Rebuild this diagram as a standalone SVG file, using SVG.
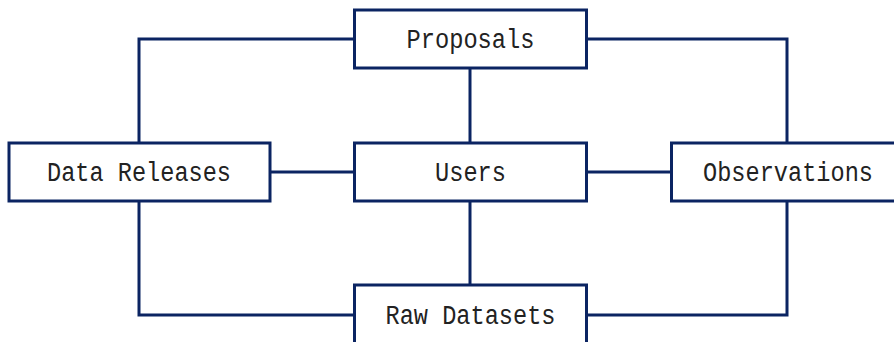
<svg xmlns="http://www.w3.org/2000/svg" width="894" height="342" viewBox="0 0 894 342">
<style>
.box{fill:#fff;stroke:#0b2462;stroke-width:3}
.conn{fill:none;stroke:#0b2462;stroke-width:3}
.lbl{font-family:"Liberation Mono","DejaVu Sans Mono",monospace;font-size:27px;fill:#222;text-anchor:middle}
</style>
<rect width="894" height="342" fill="#fff"/>
<g id="connectors">
<polyline class="conn" points="354,39 139,39 139,143"/>
<polyline class="conn" points="586,39 787,39 787,143"/>
<line class="conn" x1="470" y1="68" x2="470" y2="143"/>
<line class="conn" x1="270" y1="172" x2="354" y2="172"/>
<line class="conn" x1="586" y1="172" x2="671" y2="172"/>
<line class="conn" x1="470" y1="201" x2="470" y2="285"/>
<polyline class="conn" points="139,201 139,315 354,315"/>
<polyline class="conn" points="787,201 787,315 586,315"/>
</g>
<g id="proposals">
<rect class="box" x="354.5" y="10" width="232" height="58"/>
<text class="lbl" x="470.5" y="48" textLength="128" lengthAdjust="spacingAndGlyphs">Proposals</text>
</g>
<g id="users">
<rect class="box" x="354.5" y="143" width="232" height="58"/>
<text class="lbl" x="470.5" y="181" textLength="71" lengthAdjust="spacingAndGlyphs">Users</text>
</g>
<g id="data-releases">
<rect class="box" x="9" y="143" width="261" height="58"/>
<text class="lbl" x="139" y="181" textLength="184" lengthAdjust="spacingAndGlyphs">Data Releases</text>
</g>
<g id="observations">
<rect class="box" x="671.5" y="143" width="234" height="58"/>
<text class="lbl" x="788" y="181" textLength="170" lengthAdjust="spacingAndGlyphs">Observations</text>
</g>
<g id="raw-datasets">
<rect class="box" x="354.5" y="285" width="232" height="60"/>
<text class="lbl" x="470.5" y="324" textLength="170" lengthAdjust="spacingAndGlyphs">Raw Datasets</text>
</g>
</svg>
